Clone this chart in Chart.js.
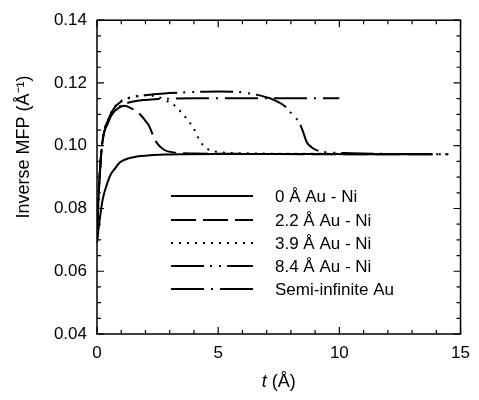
<!DOCTYPE html>
<html>
<head>
<meta charset="utf-8">
<script src="https://cdn.jsdelivr.net/npm/chart.js@4.4.1/dist/chart.umd.min.js"></script>
<style>
html,body{margin:0;padding:0;background:#fff;}
#wrap{width:479px;height:400px;position:relative;}
</style>
</head>
<body>
<div id="wrap"><canvas id="c" width="479" height="400"></canvas></div>
<script>
// ---- data ----
const labels = ['0 Å Au - Ni', '2.2 Å Au - Ni', '3.9 Å Au - Ni', '8.4 Å Au - Ni', 'Semi-infinite Au'];

const t0 = [0, 0.05, 0.12, 0.24, 0.4, 0.55, 0.75, 0.95, 1.2, 1.5, 1.8, 2.2, 2.8, 3.5, 5, 8, 11, 13.8];
const v0 = [0.069, 0.0725, 0.077, 0.0831, 0.0875, 0.0906, 0.0928, 0.0947, 0.0957, 0.0963, 0.0967, 0.0970, 0.0972, 0.0973, 0.0974, 0.0974, 0.0973, 0.0973];

const t22 = [0, 0.05, 0.12, 0.24, 0.45, 0.65, 0.85, 1.1, 1.4, 1.8, 2.0, 2.15, 2.3, 2.46, 2.75, 3.2, 4, 6, 10, 13.8];
const v22 = [0.070, 0.081, 0.0916, 0.102, 0.1073, 0.1104, 0.1118, 0.1127, 0.1120, 0.1098, 0.1079, 0.1063, 0.1035, 0.1010, 0.0988, 0.0978, 0.0975, 0.0974, 0.0973, 0.0973];

const t39 = [0, 0.05, 0.12, 0.24, 0.45, 0.65, 0.9, 1.2, 1.6, 2.0, 2.4, 2.7, 2.95, 3.25, 3.55, 3.8, 4.0, 4.15, 4.35, 4.65, 5.0, 6, 10, 14.5];
const v39 = [0.070, 0.081, 0.092, 0.1025, 0.108, 0.1115, 0.1138, 0.1150, 0.1158, 0.1161, 0.1158, 0.1150, 0.1140, 0.1125, 0.1100, 0.1076, 0.1054, 0.1029, 0.1004, 0.0986, 0.0980, 0.0976, 0.0974, 0.0973];

const t84 = [0, 0.05, 0.12, 0.24, 0.45, 0.65, 0.9, 1.2, 1.6, 2.0, 2.5, 3.0, 4.0, 5.0, 6.0, 6.6, 7.1, 7.4, 7.75, 8.05, 8.35, 8.5, 8.65, 8.85, 9.15, 9.5, 10.5, 12, 14.5];
const v84 = [0.070, 0.081, 0.092, 0.1025, 0.108, 0.1113, 0.1135, 0.1148, 0.1156, 0.1161, 0.1165, 0.1168, 0.1171, 0.1173, 0.1170, 0.1162, 0.1152, 0.1142, 0.1126, 0.1100, 0.1073, 0.1045, 0.1012, 0.0995, 0.0983, 0.0979, 0.0976, 0.0974, 0.0973];

const tSi = [0, 0.05, 0.12, 0.24, 0.45, 0.65, 0.85, 1.1, 1.5, 2.0, 2.5, 3, 4, 6, 8, 10];
const vSi = [0.070, 0.081, 0.0916, 0.102, 0.1073, 0.1104, 0.1120, 0.1132, 0.1141, 0.1146, 0.1149, 0.1150, 0.1151, 0.1151, 0.1151, 0.1151];

const xTicks = [0, 5, 10, 15];
const yTicks = [0.04, 0.06, 0.08, 0.10, 0.12, 0.14];

// ---- styles ----
const FONT = '"Liberation Sans", Arial, Helvetica, sans-serif';
const dashes = [[], [25, 7], [2, 6], [33, 6, 2, 7, 2, 6], [33, 7, 2, 7]];
const series = [[t0, v0], [t22, v22], [t39, v39], [t84, v84], [tSi, vSi]];

const datasets = series.map((s, i) => ({
  label: labels[i],
  data: s[0].map((t, k) => ({x: t, y: s[1][k]})),
  borderColor: '#000',
  backgroundColor: '#000',
  borderWidth: 2,
  borderDash: dashes[i],
  pointRadius: 0,
  fill: false,
  cubicInterpolationMode: 'monotone'
}));

const bgPlugin = {
  id: 'bg',
  beforeDraw(chart) {
    const ctx = chart.ctx;
    ctx.save();
    ctx.fillStyle = '#fff';
    ctx.fillRect(0, 0, chart.width, chart.height);
    ctx.restore();
  }
};

const framePlugin = {
  id: 'frame',
  afterDraw(chart) {
    const ctx = chart.ctx;
    const a = chart.chartArea;
    const xs = chart.scales.x, ys = chart.scales.y;
    ctx.save();
    ctx.strokeStyle = '#000';
    ctx.lineWidth = 1.5;
    ctx.setLineDash([]);
    ctx.strokeRect(a.left, a.top, a.right - a.left, a.bottom - a.top);
    ctx.lineWidth = 1.2;
    // x ticks (minor every 1, major every 5)
    for (let v = xs.min; v <= xs.max + 1e-9; v += 1) {
      const px = xs.getPixelForValue(v);
      const len = (Math.round(v) % 5 === 0) ? 7 : 4;
      ctx.beginPath();
      ctx.moveTo(px, a.bottom); ctx.lineTo(px, a.bottom - len);
      ctx.moveTo(px, a.top); ctx.lineTo(px, a.top + len);
      ctx.stroke();
    }
    // y ticks (minor every 0.005, major every 0.02)
    for (let k = 0; k <= Math.round((ys.max - ys.min) / 0.005); k++) {
      const v = ys.min + k * 0.005;
      const py = ys.getPixelForValue(v);
      const len = (k % 4 === 0) ? 7 : 4;
      ctx.beginPath();
      ctx.moveTo(a.left, py); ctx.lineTo(a.left + len, py);
      ctx.moveTo(a.right, py); ctx.lineTo(a.right - len, py);
      ctx.stroke();
    }
    // axis titles
    ctx.fillStyle = '#000';
    ctx.textBaseline = 'middle';
    ctx.textAlign = 'center';
    ctx.save();
    ctx.translate(24, 147);
    ctx.rotate(-Math.PI / 2);
    ctx.font = '18px ' + FONT;
    ctx.fillText('Inverse MFP (Å⁻¹)', 0, 0);
    ctx.restore();
    // x title: italic t + (Å)
    const cx = (a.left + a.right) / 2;
    ctx.font = 'italic 18px ' + FONT;
    const w1 = ctx.measureText('t').width;
    ctx.font = '18px ' + FONT;
    const w2 = ctx.measureText(' (Å)').width;
    const x0 = cx - (w1 + w2) / 2;
    ctx.textAlign = 'left';
    ctx.textBaseline = 'alphabetic';
    ctx.font = 'italic 18px ' + FONT;
    ctx.fillText('t', x0, 387);
    ctx.font = '18px ' + FONT;
    ctx.fillText(' (Å)', x0 + w1, 387);
    // legend inside plot
    const rows = [196, 220, 243, 266, 289];
    const lx0 = a.left + 74, lx1 = a.left + 156, tx = a.left + 178;
    chart.data.datasets.forEach((ds, i) => {
      ctx.lineWidth = ds.borderWidth;
      ctx.setLineDash(ds.borderDash || []);
      ctx.beginPath();
      ctx.moveTo(lx0, rows[i]); ctx.lineTo(lx1, rows[i]);
      ctx.stroke();
      ctx.setLineDash([]);
      ctx.font = '17px ' + FONT;
      ctx.textBaseline = 'middle';
      ctx.fillText(ds.label, tx, rows[i] + 1);
    });
    ctx.restore();
  }
};

new Chart(document.getElementById('c'), {
  type: 'line',
  data: { datasets },
  plugins: [bgPlugin, framePlugin],
  options: {
    responsive: false,
    animation: false,
    layout: { padding: { left: 0, right: 11, top: 16, bottom: 0 } },
    plugins: { legend: { display: false }, tooltip: { enabled: false } },
    scales: {
      x: {
        type: 'linear', min: 0, max: 15,
        afterBuildTicks: s => { s.ticks = xTicks.map(v => ({value: v})); },
        afterFit: s => { s.height = 66; },
        grid: { display: false, drawTicks: false },
        border: { display: false },
        ticks: { color: '#000', padding: 9, font: { family: FONT, size: 17 }, maxRotation: 0, callback: v => String(v) }
      },
      y: {
        type: 'linear', min: 0.04, max: 0.14,
        afterBuildTicks: s => { s.ticks = yTicks.map(v => ({value: v})); },
        afterFit: s => { s.width = 97; },
        grid: { display: false, drawTicks: false },
        border: { display: false },
        ticks: { color: '#000', padding: 10, font: { family: FONT, size: 17 }, callback: v => Number(v).toFixed(2) }
      }
    }
  }
});
</script>
</body>
</html>
